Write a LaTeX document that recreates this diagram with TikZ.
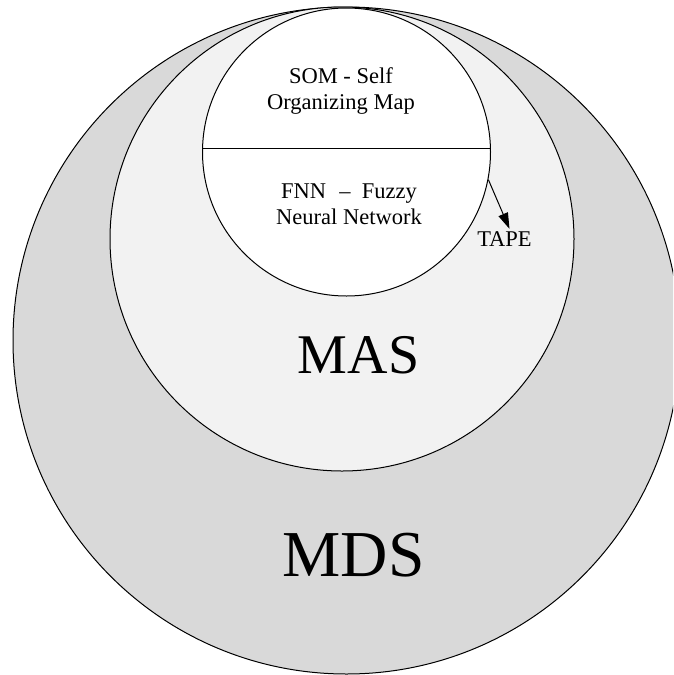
\documentclass[tikz,border=0pt]{standalone}
\usepackage{fontspec}
\setmainfont{Liberation Serif}
\usetikzlibrary{arrows.meta}
\tikzset{
  ring/.style={circle, draw=black, line width=1pt, inner sep=0pt},
  lbl/.style={align=center, inner sep=0pt, font=\fontsize{22.5}{26}\selectfont},
  big/.style={inner sep=0pt},
  link/.style={line width=1pt, -{Triangle[length=16pt,width=10pt]}}
}
\begin{document}
\begin{tikzpicture}[x=1pt, y=-1pt]
  \clip (0,0) rectangle (673,675);
  \fill[white] (0,0) rectangle (673,675);
  % nested layers
  \node[ring, fill=gray!30, minimum size=667pt] (mds) at (346.5,340.5) {};
  \node[ring, fill=gray!10, minimum size=464pt] (mas) at (342,239) {};
  \node[ring, fill=white, minimum size=288pt] (core) at (346.5,152) {};
  % divider of the core, a chord just above its centre
  \draw[line width=1pt] (core.center) ++(-143.9,-4) -- ++(287.8,0);
  % labels
  \node[lbl] (som) at (341,90.8) {SOM - Self\\Organizing Map};
  \node[lbl] (fnn) at (349,204.6) {FNN\hspace{0.6em}–\hspace{0.5em}Fuzzy\\Neural Network};
  \node[inner sep=3pt, font=\fontsize{22.5}{26}\selectfont] (tape) at (504.5,239.5) {TAPE};
  \node[big, font=\fontsize{56}{60}\selectfont] (maslbl) at (358.5,355) {MAS};
  \node[big, font=\fontsize{65.5}{70}\selectfont] (mdslbl) at (353.5,555) {MDS};
  % output arrow
  \draw[link] (core.-11.5) -- ([xshift=5pt]tape.north);
\end{tikzpicture}
\end{document}
